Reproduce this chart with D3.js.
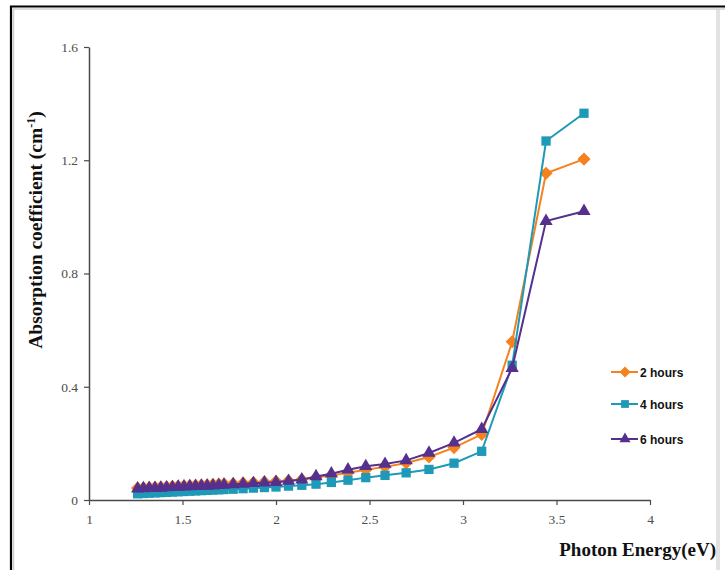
<!DOCTYPE html>
<html><head><meta charset="utf-8">
<script src="https://cdn.jsdelivr.net/npm/d3@7"></script>
<style>html,body{margin:0;padding:0;background:#fff;}svg{display:block;}</style>
</head><body><svg id="c" width="725" height="570"></svg>
<script>
const energy = [1.260,1.291,1.322,1.353,1.384,1.415,1.446,1.477,1.508,1.539,1.570,1.601,1.632,1.663,1.694,1.722,1.771,1.824,1.879,1.938,2.000,2.067,2.138,2.214,2.296,2.385,2.480,2.583,2.696,2.818,2.952,3.100,3.263,3.444,3.647];
const hours2 = [0.042,0.043,0.044,0.045,0.046,0.047,0.048,0.049,0.050,0.051,0.052,0.053,0.054,0.055,0.056,0.057,0.058,0.060,0.062,0.064,0.066,0.068,0.072,0.079,0.087,0.096,0.107,0.117,0.131,0.152,0.185,0.232,0.559,1.154,1.204];
const hours4 = [0.022,0.023,0.024,0.025,0.026,0.027,0.028,0.029,0.030,0.031,0.032,0.033,0.034,0.035,0.036,0.037,0.038,0.040,0.042,0.044,0.046,0.049,0.052,0.056,0.062,0.070,0.079,0.087,0.096,0.108,0.130,0.172,0.476,1.268,1.366];
const hours6 = [0.040,0.041,0.042,0.042,0.043,0.044,0.045,0.046,0.047,0.048,0.049,0.050,0.050,0.051,0.052,0.053,0.055,0.057,0.059,0.061,0.063,0.067,0.072,0.083,0.093,0.107,0.119,0.127,0.140,0.166,0.202,0.250,0.466,0.985,1.020];
const seriesNames = ["2 hours","4 hours","6 hours"];
const xTicks = [1,1.5,2,2.5,3,3.5,4];
const yTicks = [0,0.4,0.8,1.2,1.6];

const colors = ["#F5811F","#1E9AB8","#55308D"];
const symbols = [d3.symbolDiamond2, d3.symbolSquare2, d3.symbolTriangle2];
const symSizes = [110, 110, 125];

const svg = d3.select("#c");
// frame
svg.append("rect").attr("x",716).attr("y",9).attr("width",4).attr("height",561).attr("fill","#e2e2e2");
svg.append("path").attr("d","M13.5,570V9H725").attr("fill","none").attr("stroke","#cfcfcf").attr("stroke-width",1.5);
svg.append("path").attr("d","M11,570V6.5H725").attr("fill","none").attr("stroke","#000").attr("stroke-width",2.2);

const x = d3.scaleLinear().domain([1,4]).range([89,650]);
const y = d3.scaleLinear().domain([0,1.6]).range([500,47]);

const axColor = "#4a4a4a";
const gx = svg.append("g").attr("transform","translate(0,500)")
  .call(d3.axisBottom(x).tickValues(xTicks).tickFormat(d3.format("")).tickSize(5).tickSizeOuter(0));
const gy = svg.append("g").attr("transform","translate(89,0)")
  .call(d3.axisLeft(y).tickValues(yTicks).tickFormat(d3.format("")).tickSize(5).tickSizeOuter(0));
[gx,gy].forEach(g=>{
  g.attr("font-size",null).attr("font-family",null);
  g.select(".domain").attr("stroke",axColor).attr("stroke-width",1.5);
  g.selectAll(".tick line").attr("stroke",axColor).attr("stroke-width",1.2);
  g.selectAll(".tick text").attr("fill","#4d4d4d").style("font-family","'Liberation Serif', serif").style("font-size","13.5px");
});
gx.selectAll(".tick text").attr("dy","1.2em");
gy.selectAll(".tick text").attr("x",-11);

const allSeries = [hours2, hours4, hours6];
const line = d3.line().x((d,i)=>x(energy[i])).y(d=>y(d));
allSeries.forEach((vals,k)=>{
  const g = svg.append("g");
  g.append("path").datum(vals).attr("d",line).attr("fill","none").attr("stroke",colors[k]).attr("stroke-width",2);
  g.selectAll("path.m").data(vals).enter().append("path").attr("class","m")
    .attr("transform",(d,i)=>`translate(${x(energy[i])},${y(d)})`)
    .attr("d",d3.symbol().type(symbols[k]).size(symSizes[k]))
    .attr("fill",colors[k]);
});

// legend
const legY = [372,404,439];
seriesNames.forEach((name,k)=>{
  const g = svg.append("g").attr("transform",`translate(0,${legY[k]})`);
  g.append("line").attr("x1",611).attr("x2",638).attr("y1",0).attr("y2",0).attr("stroke",colors[k]).attr("stroke-width",2);
  g.append("path").attr("transform","translate(625,0)").attr("d",d3.symbol().type(symbols[k]).size(symSizes[k]*0.7)).attr("fill",colors[k]);
  g.append("text").attr("x",640).attr("y",4.5).text(name)
    .attr("font-family","Liberation Sans Narrow, Liberation Sans, sans-serif").attr("font-weight","bold").attr("font-size","12px").attr("fill","#111");
});

// axis titles
svg.append("text").attr("x",716).attr("y",556).attr("text-anchor","end")
  .attr("font-family","Liberation Serif, serif").attr("font-weight","bold").attr("font-size","19px").attr("fill","#111")
  .text("Photon Energy(eV)");
const yt = svg.append("text").attr("transform","translate(42,230) rotate(-90)").attr("text-anchor","middle")
  .attr("font-family","Liberation Serif, serif").attr("font-weight","bold").attr("font-size","19.5px").attr("fill","#111");
yt.append("tspan").text("Absorption coefficient (cm");
yt.append("tspan").attr("dy","-7").attr("font-size","12px").text("-1");
yt.append("tspan").attr("dy","7").text(")");
</script></body></html>
